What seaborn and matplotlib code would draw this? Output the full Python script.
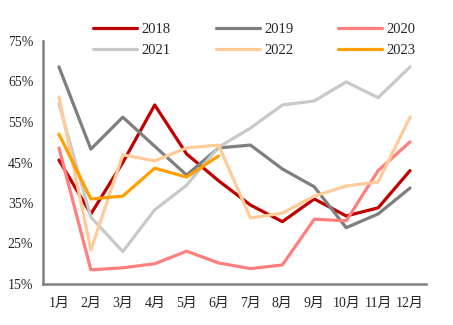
import matplotlib
matplotlib.use("Agg")
import matplotlib.pyplot as plt
import seaborn as sns
import pandas as pd

months = ["1月", "2月", "3月", "4月", "5月", "6月", "7月", "8月", "9月", "10月", "11月", "12月"]

y2018 = [45.6, 32.3, 45.0, 59.2, 47.1, 40.5, 34.5, 30.4, 36.0, 31.8, 33.8, 43.0]
y2019 = [68.6, 48.3, 56.2, 49.0, 41.9, 48.6, 49.3, 43.4, 39.0, 28.9, 32.3, 38.7]
y2020 = [48.6, 18.5, 19.0, 20.0, 23.1, 20.2, 18.8, 19.7, 31.0, 30.6, 43.0, 50.1]
y2021 = [59.5, 31.5, 23.0, 33.3, 39.4, 48.8, 53.5, 59.2, 60.2, 64.9, 61.0, 68.6]
y2022 = [61.2, 23.4, 46.9, 45.4, 48.6, 49.3, 31.3, 32.5, 36.7, 39.2, 40.2, 56.2]
y2023 = [52.0, 36.0, 36.7, 43.6, 41.4, 46.6]

series = {"2018": y2018, "2019": y2019, "2020": y2020,
          "2021": y2021, "2022": y2022, "2023": y2023}
colors = {"2018": "#C00000", "2019": "#7F7F7F", "2020": "#FF7F7F",
          "2021": "#C9C9C9", "2022": "#FFCC99", "2023": "#FFA000"}

rows = []
for year, vals in series.items():
    for i, v in enumerate(vals):
        rows.append({"month": i, "value": v, "year": year})
df = pd.DataFrame(rows)

sns.set_style("white")
plt.rcParams["font.family"] = ["Liberation Serif", "Noto Sans CJK SC"]

fig = plt.figure(figsize=(4.53, 3.25), dpi=100)
ax = fig.add_axes([43 / 453, 41 / 325, (426 - 43) / 453, (284 - 41) / 325])

sns.lineplot(data=df, x="month", y="value", hue="year", palette=colors,
             linewidth=2.3, ax=ax, legend=False, sort=False)

ax.set_xlim(-0.5, 11.5)
ax.set_ylim(15, 75)
ax.set_yticks([15, 25, 35, 45, 55, 65, 75])
ax.set_yticklabels([f"{t}%" for t in [15, 25, 35, 45, 55, 65, 75]], fontsize=10)
ax.set_xticks([i + 0.5 for i in range(-1, 12)], minor=False)
ax.set_xticklabels([])
ax.set_xticks(range(12), minor=True)
ax.set_xticklabels(months, minor=True, fontsize=10)
ax.tick_params(axis="x", which="major", length=5, width=1.5, color="#808080", direction="out")
ax.tick_params(axis="x", which="minor", length=0, pad=9)
ax.tick_params(axis="y", length=5, width=1.5, color="#808080", direction="out", pad=2)
ax.set_xlabel("")
ax.set_ylabel("")

for side in ["top", "right"]:
    ax.spines[side].set_visible(False)
for side in ["left", "bottom"]:
    ax.spines[side].set_color("#808080")
    ax.spines[side].set_linewidth(1.8)

# legend filled row by row: 2018 2019 2020 / 2021 2022 2023
order = ["2018", "2021", "2019", "2022", "2020", "2023"]
handles = [plt.Line2D([], [], color=colors[y], linewidth=2.3) for y in order]
fig.legend(handles, order, ncol=3, loc="upper left",
           bbox_to_anchor=(0.177, 0.97), frameon=False, fontsize=10.5,
           handlelength=3.0, handletextpad=0.3, columnspacing=3.1,
           labelspacing=0.55)

fig.savefig("out.png", dpi=100)
